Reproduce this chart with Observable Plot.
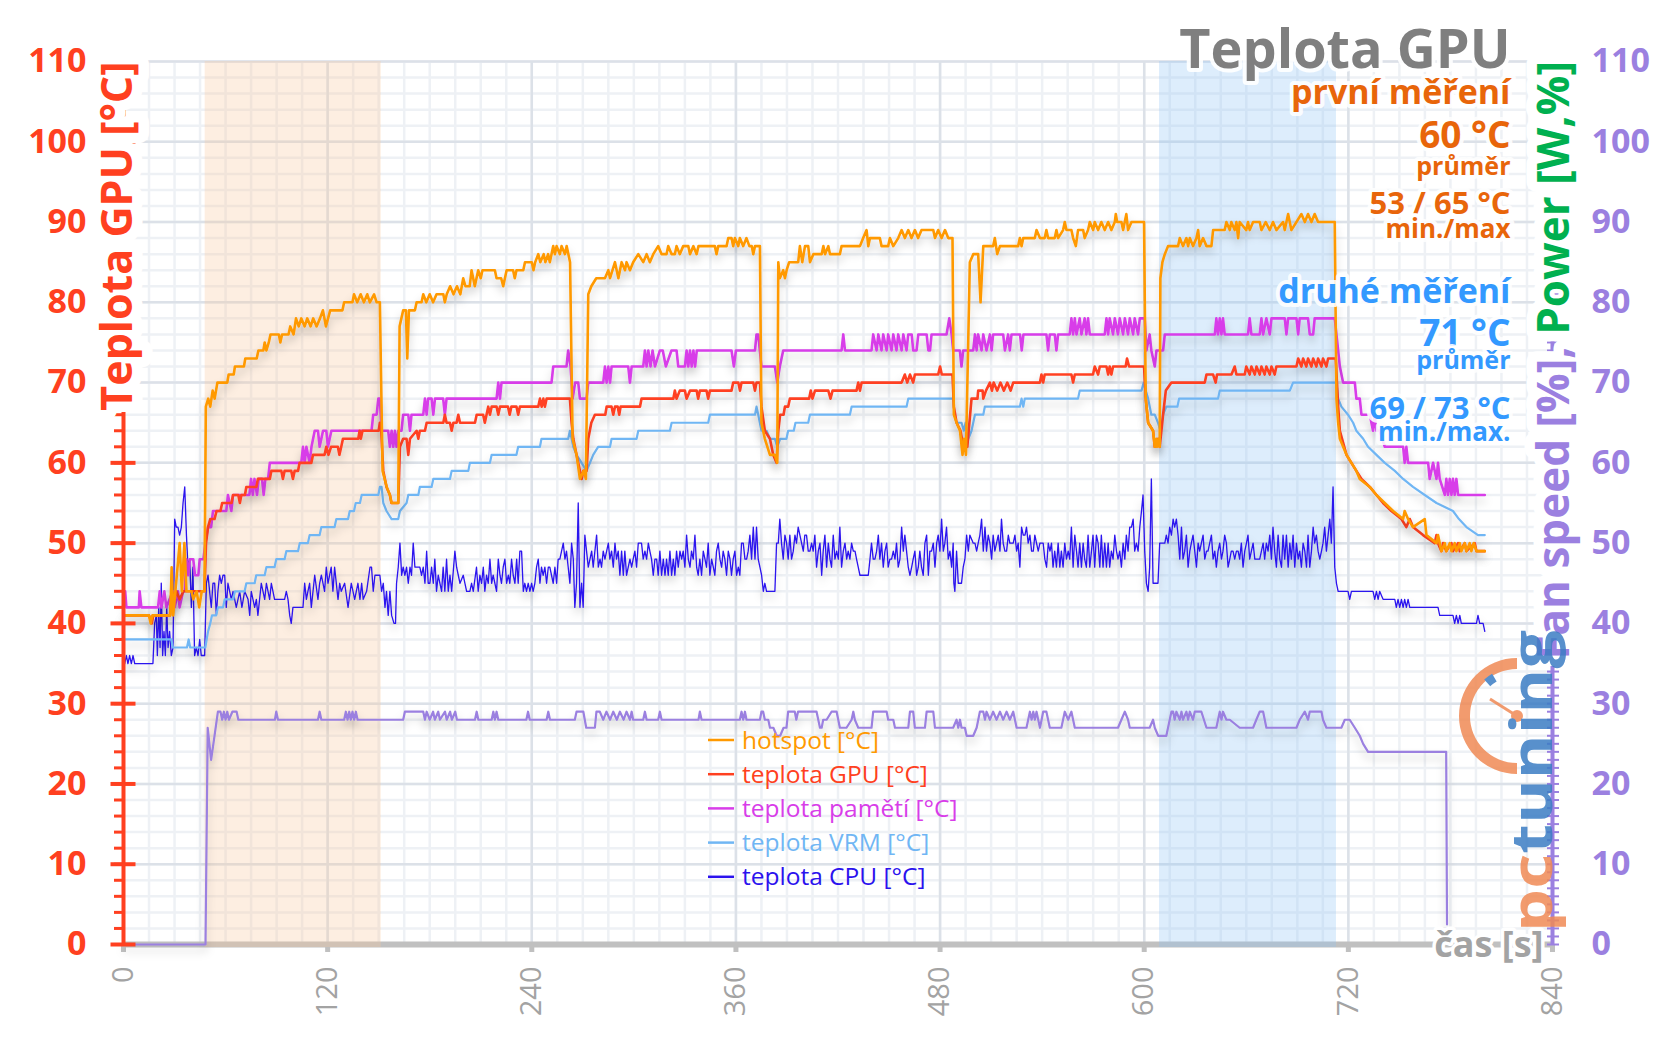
<!DOCTYPE html>
<html><head><meta charset="utf-8">
<script src="https://cdn.jsdelivr.net/npm/d3@7"></script>
<script src="https://cdn.jsdelivr.net/npm/@observablehq/plot@0.6"></script>
<style>
body{margin:0;background:#fff;}
#chart{width:1656px;height:1043px;}
</style></head><body><div id="chart"></div>
<script>
// ---------- DATA (time [s], value) ----------
const timeTicks = [0,120,240,360,480,600,720,840];
const tempTicks = [0,10,20,30,40,50,60,70,80,90,100,110];
const bands = [{from:48, to:151.5, kind:"first"}, {from:609, to:713, kind:"second"}];
const seriesNames = ["hotspot [°C]","teplota GPU [°C]","teplota pamětí [°C]","teplota VRM [°C]","teplota CPU [°C]"];
const chartTitle = "Teplota GPU";
const firstRun = ["první měření","60 °C","průměr","53 / 65 °C","min./max"];
const secondRun = ["druhé měření","71 °C","průměr","69 / 73 °C","min./max."];
const leftTitle = "Teplota GPU [°C]";
const rightTitleA = "Fan speed [%], ";
const rightTitleB = "Power [W,%]";
const xTitle = "čas [s]";

const hotspot = [[0,41],[15,41],[16,40],[17,41],[27.5,41],[28.3,47],[29.2,41],[30.5,44],[33,50],[34.3,44],[35.8,50],[37,44],[40,44],[41,43],[43,44],[44.5,42],[46,44],[47.6,44],[48.4,67],[49.8,68],[51,67],[52.4,69],[53.6,68],[55.2,70],[61,70],[61.8,71],[64.8,71],[65.5,72],[70.8,72],[71.6,73],[78.3,73],[79.3,74],[82.2,74],[83,75],[84,74],[85.4,75],[86.4,76],[91.3,76],[92.2,75],[93.2,76],[97,76],[98,77],[100,76],[101.4,78],[103,77],[104.5,78],[106.5,77],[108,78],[110,77],[111.5,78],[113.5,77],[115.5,78],[117.2,79],[119,77],[121.5,79],[128.7,79],[129.7,80],[134.6,80],[135.5,81],[137.4,80],[139.4,81],[141.3,80],[143.3,81],[144.8,80],[147.3,81],[148.8,80],[150.7,80],[152.3,59],[154.7,57],[156.6,56],[157.6,55],[161.5,55],[162.3,77],[164.4,79],[166,79],[166.8,73],[167.8,79],[171.3,79],[172.3,80],[175.2,80],[176.2,81],[178,80],[180,81],[182,80],[184,81],[188,81],[188.9,80],[190,81],[192,82],[194,81],[196,82],[198,81],[199.7,83],[201,82],[203.5,82],[204.6,84],[206.5,82],[207.5,83],[208.5,84],[210,83],[211,84],[218.3,84],[219.3,83],[222,83],[223.2,82],[224.2,83],[225.2,84],[229,84],[230,83],[231,84],[235,84],[236,85],[240,85],[241,84],[242,85],[243.8,86],[245,85],[247,86],[248,85],[249.6,86],[250.6,85],[252.6,87],[253.6,86],[254.6,87],[256.5,86],[257.5,87],[259.5,86],[260.5,87],[262.5,85],[264,63],[266.3,61],[268.3,58],[270.5,59],[271.8,58],[273.2,81],[275,82],[277.9,83],[283,83],[285,84],[286,83],[288.9,85],[290.9,83],[292.8,85],[294.8,84],[295.7,85],[297.7,84],[299.6,85],[302.6,86],[305.5,85],[307.5,86],[309.4,85],[311.4,86],[314.3,87],[316.3,86],[319.2,86],[320.2,87],[322.2,86],[324.1,86],[325.1,87],[327,86],[329,87],[332,87],[333,86],[335,87],[336.9,86],[338,87],[347.6,87],[348.6,86],[349.6,87],[354.5,87],[355.5,88],[357.4,88],[358.4,87],[359.4,88],[361.4,87],[362.3,88],[364.3,87],[366.2,88],[367.9,87],[369.3,87],[370.2,86],[371.2,87],[374.1,87],[375,65],[377,63],[380,61],[382.9,61],[384.3,60],[384.9,85],[385.8,83],[387.8,84],[388.8,83],[389.8,84],[391.3,85],[396.6,85],[397.6,87],[399,85],[400.6,87],[402.5,87],[403.5,85],[405.5,86],[410.4,86],[411.4,87],[412.4,86],[414.3,87],[415.3,86],[421.1,86],[422.1,87],[432.9,87],[434.8,88],[436.8,89],[437.8,87],[438.8,88],[444.6,88],[445.6,87],[449.5,87],[450.5,88],[452.5,87],[455.4,88],[457.4,89],[459.3,88],[461.3,89],[463.2,88],[465.2,89],[467.1,88],[469.1,89],[476,89],[477,88],[478.9,89],[480.9,88],[482.9,89],[484.8,88],[487.3,88],[488.1,66],[489.7,65],[491.7,64],[493.2,61],[494,63],[495.2,61],[497.5,85],[499.5,86],[502.4,86],[503.8,80],[505.4,87],[511.2,87],[512.2,88],[513.6,86],[515.2,87],[525.9,87],[526.9,88],[527.9,87],[528.9,88],[535.7,88],[536.7,89],[538.7,88],[541.5,88],[542.5,89],[543.5,88],[547.4,88],[548.4,89],[549.4,88],[552.3,89],[553.3,90],[554.3,89],[557.2,89],[558.2,88],[559.8,87],[561.1,89],[564.1,89],[565,88],[567,89],[568,90],[570,89],[570.9,90],[572.9,89],[574.8,90],[576.8,89],[578.8,90],[580.7,89],[582.7,90],[583.3,91],[584.1,90],[586.6,90],[587.6,89],[589.5,91],[590.5,89],[592.5,90],[599.9,90],[600.9,68],[602.3,65],[605.2,64],[606.2,62],[607.2,63],[607.6,62],[608.7,63],[609.1,62],[609.5,83],[610.7,85],[612.1,86],[614,87],[619.9,87],[620.9,88],[622.8,87],[624.8,88],[625.8,87],[626.8,88],[628.7,87],[630.7,88],[631.7,89],[632.6,87],[634.6,88],[636.6,87],[639.5,87],[640.5,89],[647.3,89],[648.3,90],[650.3,89],[651.2,90],[653.2,89],[654.2,90],[655.2,88],[656.1,90],[660,89],[661,90],[662,89],[664,90],[667.9,90],[668.9,89],[671.4,90],[673.8,89],[675.7,90],[677.7,89],[681.6,90],[682.6,89],[684.6,91],[686.5,89],[689.5,90],[692.4,91],[694.4,90],[696.3,91],[698.3,90],[700.2,91],[702.2,90],[712,90],[713,68],[714,65],[715,63],[718.9,61],[721.8,60],[724.7,59],[726.7,58],[732.6,57],[736.5,56],[741.4,55],[746.3,54],[752.2,53],[753.1,54],[755.1,53],[758,52],[764.9,53],[765.9,51],[771.8,50],[772.7,51],[773.7,50],[774.7,49],[776.7,50],[777.6,49],[779.6,50],[780.6,49],[782.5,50],[783.5,49],[785.5,50],[786.4,49],[788.4,50],[789.4,49],[791.3,50],[792.3,49],[793.7,50],[795.3,49],[800.2,49]];

const gpuTemp = [[0,41],[15,41],[16.6,40],[17.5,41],[27.3,41],[28.5,44],[30,43],[31,44],[33,43],[35.2,44],[47.6,44],[48.5,50],[49.7,52],[51,53],[53.5,53],[54.7,54],[57,54],[58,55],[63.5,55],[64.4,56],[67.5,56],[68.4,55],[69.3,56],[71.4,56],[72.2,57],[78.1,57],[79,58],[86,58],[86.9,59],[92.8,59],[93.7,58],[94.7,59],[98.6,59],[99.6,58],[100.6,59],[102.6,59],[103.5,60],[110.4,60],[111.4,61],[118.2,61],[119.2,62],[120.5,61],[122,62],[126,62],[126.9,61],[128,62],[129,63],[138,63],[138.8,64],[139.5,63],[140.5,64],[150,64],[150.7,65],[151.5,64],[152.7,59],[154.6,57],[156.6,56],[157.5,55],[161.5,55],[162.5,62],[164.4,63],[166.4,63],[167.4,61],[168.4,63],[172.3,64],[173.3,63],[174.2,64],[177.2,64],[178.2,65],[188,65],[188.9,66],[189.9,65],[191.9,65],[192.9,64],[193.9,65],[195.8,65],[196.8,66],[197.8,65],[206.6,65],[207.6,66],[211.4,66],[212.4,65],[213.4,66],[214.4,67],[215.4,66],[216.4,67],[219.3,67],[220.3,66],[221.3,67],[226,67],[227,66],[228,67],[231,67],[232,66],[233,67],[243.8,67],[244.8,68],[245.8,67],[246.8,68],[247.7,67],[248.7,68],[262.4,68],[263.4,65],[264.4,63],[266.3,61],[269.3,58],[270.3,59],[272.2,59],[273.2,63],[275,65],[277.1,66],[283.2,66],[284,67],[286.9,67],[287.9,66],[288.9,67],[290.5,67],[291.4,66],[292.2,67],[303.6,67],[304.5,68],[323.2,68],[324.1,69],[325.1,68],[327,69],[330,69],[331,68],[333,69],[336.9,69],[337.8,68],[338.8,69],[342.7,69],[343.7,68],[344.7,69],[357.4,69],[358.4,70],[361.4,70],[362.4,69],[363.3,70],[370.2,70],[371.2,69],[372.1,70],[374.1,70],[375,67],[377,64],[380,63],[381.9,61],[383.9,60],[384.9,64],[386,66],[388,66],[388.8,67],[390.7,67],[391.7,68],[403,68],[404,69],[405,68],[406.5,69],[414.3,69],[415.6,68],[416.8,69],[430.9,69],[431.9,70],[432.9,69],[433.9,70],[457.4,70],[459.3,71],[460.7,70],[462.3,71],[464.2,70],[465.2,71],[478.9,71],[480,72],[481,71],[487.3,71],[488.1,67],[489.7,65],[492,64],[493.6,62],[495,63],[496,62],[498.5,68],[502,68],[502.4,69],[505,69],[505.4,68],[507,69],[509.3,70],[510.5,69],[511.5,70],[513.6,69],[515.5,70],[517.5,69],[519.5,70],[521.5,69],[523,70],[538.7,70],[539.6,71],[540.6,70],[541.5,71],[557.2,71],[558.2,70],[559.2,71],[569.9,71],[570.9,72],[572.9,71],[573.9,72],[577.8,72],[578.8,71],[579.7,72],[580.7,71],[581.7,72],[589.1,72],[589.9,73],[591.1,72],[599.9,72],[600.9,68],[602.3,65],[605.2,64],[606.2,62],[608.1,63],[609.1,62],[611.1,66],[612.7,69],[616,70],[635.6,70],[636.6,71],[640.5,71],[642,70],[642.8,71],[651.3,71],[653.2,72],[654.2,71],[659.1,71],[660,72],[662,71],[663,72],[665,71],[666,72],[667.9,71],[668.9,72],[670.8,71],[671.8,72],[673.8,71],[674.8,72],[676.7,71],[677.7,72],[689.5,72],[690.5,73],[692.4,72],[693.4,73],[695.3,72],[696.3,73],[698.3,72],[699.3,73],[701.2,72],[702.2,73],[704.2,72],[705.1,73],[707.1,72],[708.1,73],[712.6,73],[714,67],[715,64],[718.9,61],[721.8,60],[724.7,59],[727.7,58],[732.6,57],[736.5,56],[740.4,55],[745.3,54],[751.2,53],[754.1,52],[756.1,53],[758,52],[763.9,51],[770.8,50],[771.8,51],[772.7,50],[774.7,49],[775.7,50],[777.6,49],[780.6,50],[781.5,49],[784.5,50],[785.5,49],[788.4,50],[789.4,49],[794.3,50],[795.3,49],[800.2,49]];

const memTemp = [[0,44],[1,44],[1.7,42],[9,42],[9.5,44],[10.5,42],[20.3,42],[21.3,44],[22.3,42],[24,44],[25.2,42],[29,44],[30.1,42],[32,44],[33,42],[35,44],[36,44],[37,48],[38,46],[39,48],[41,48],[42,46],[44,46],[44.8,48],[47,48],[48.1,50],[49.7,52],[51.5,52],[52.6,54],[60.4,54],[61.4,56],[63.4,54],[64.4,56],[74,56],[75,58],[76,56],[77,58],[78.5,56],[79.5,58],[81.4,58],[82.4,56],[83.4,58],[85,58],[86,60],[104.5,60],[105.5,62],[106.5,60],[107.5,62],[109.4,60],[110.5,62],[112.4,64],[114.3,64],[115.3,62],[117.3,64],[119.2,64],[120.2,62],[122.2,64],[145.8,64],[146.8,66],[148.8,66],[149.8,68],[150.7,68],[151.7,64],[155.6,64],[156.6,62],[157.6,64],[158.6,62],[159.5,64],[160.5,62],[161.5,64],[163.4,64],[164.4,66],[167.4,66],[168.4,64],[169.3,66],[176.2,66],[177.2,68],[178.2,66],[179.1,68],[181.1,68],[182.1,66],[183.1,68],[187.9,68],[188.9,66],[189.9,68],[219.3,68],[220.3,70],[221.3,68],[222.2,70],[251.6,70],[252.6,72],[260.4,72],[261.4,74],[262.8,72],[264,68],[265.5,70],[267.3,70],[268.3,68],[272.2,68],[273.2,70],[282,70],[283,72],[284,70],[285,72],[286,70],[286.9,72],[296.7,72],[297.7,70],[298.7,72],[305.5,72],[306.5,74],[307.5,72],[308.5,74],[309.8,72],[311,74],[312.4,72],[315.3,74],[317,74],[318.8,72],[322.1,74],[325.1,74],[326.1,72],[330,72],[331,74],[332,72],[333,74],[334,72],[335,74],[336,72],[337,74],[357.4,74],[358.8,72],[360,74],[371.2,74],[372.1,76],[373.1,76],[375,72],[382.9,72],[384.3,70],[385.8,72],[387.8,74],[422.1,74],[423.1,76],[424.1,74],[439.7,74],[440.7,76],[442.7,74],[443.7,76],[445.6,74],[446.6,76],[448.6,74],[449.5,76],[451.5,74],[452.5,76],[454.4,74],[455.4,76],[457.4,74],[458.4,76],[460.3,74],[461.3,76],[463.3,76],[464.2,74],[466.2,74],[467.2,76],[472.1,76],[473.1,74],[474.1,74],[475,76],[483.8,76],[485.4,78],[486.8,76],[487.7,74],[491.6,74],[492.6,72],[493.6,74],[499.5,74],[500.5,76],[501.5,74],[502.4,76],[504.4,74],[505.4,76],[507.3,74],[509.3,76],[510.3,74],[511.2,76],[517.1,76],[518.1,74],[520,76],[521,74],[522,76],[527,76],[528,74],[529,76],[542.5,76],[543.5,74],[544.5,76],[547.4,76],[548.4,74],[549.4,76],[556.2,76],[557.2,78],[558.2,76],[559.2,78],[560.2,76],[562.1,78],[563.1,76],[565,78],[566,76],[567,78],[568,76],[576.8,76],[577.8,78],[578.8,76],[579.7,78],[581.7,76],[582.7,78],[584.6,76],[585.6,78],[587.6,76],[588.6,78],[590.5,76],[591.5,78],[593.5,76],[594.4,78],[596.4,76],[597.4,78],[600.3,78],[601.3,74],[603.2,76],[604.2,74],[606.2,72],[607.2,74],[611.1,74],[612.1,76],[641.5,76],[642.4,78],[643.4,76],[644.4,78],[645.4,76],[646.3,78],[647.3,76],[661,76],[662,78],[663,76],[667.9,76],[668.9,78],[669.9,76],[671.8,78],[673.8,76],[674.8,78],[682.6,78],[683.6,76],[684.6,78],[689.5,78],[690.5,76],[691.4,78],[696.3,78],[697.3,76],[699.3,76],[700.2,78],[712,78],[714,74],[715,72],[716.9,70],[723.8,70],[724.7,68],[726.7,68],[727.7,66],[732.6,66],[734.5,64],[735.5,66],[736.5,64],[738.4,64],[741.4,62],[752.2,62],[753.1,60],[754.1,62],[755.1,60],[766.9,60],[767.8,58],[769.8,60],[771.8,58],[772.7,60],[773.7,58],[776.7,56],[777.6,58],[778.6,56],[779.6,58],[780.6,56],[781.5,58],[782.5,56],[783.5,58],[784.5,56],[800.2,56]];

const vrmTemp = [[0,38],[28.1,38],[29,37],[37.3,37],[38.3,38],[39.2,37],[48.1,37],[49.7,39],[51,40],[52,41],[54.5,41],[55.5,42],[58.5,42],[59.5,43],[64.5,43],[65.5,44],[71.2,44],[72.2,45],[77.1,45],[78,46],[83,46],[84,47],[88.8,47],[89.8,48],[94.7,48],[95.7,49],[102.6,49],[103.6,50],[108.4,50],[109.4,51],[115.3,51],[116.3,52],[124.1,52],[125.1,53],[132,53],[133,54],[135.5,54],[136.5,55],[139,55],[140,56],[149.8,56],[150.7,57],[151.7,57],[152.7,55],[154.6,54],[157.6,53],[161.5,53],[162.5,54],[166.4,55],[167.4,56],[173.3,56],[174.2,57],[181.1,57],[182.1,58],[191.9,58],[192.9,59],[202.7,59],[203.6,60],[215.4,60],[216.4,61],[231,61],[232,62],[244.8,62],[245.7,63],[261.4,63],[262.4,64],[263.4,63],[264.4,62],[266.3,61],[269.3,60],[272.2,59],[274.2,60],[276.1,61],[279,62],[286,62],[286.9,63],[301.6,63],[302.6,64],[321.2,64],[322.2,65],[343.7,65],[344.7,66],[371.2,66],[372.1,67],[373.1,66],[375,64],[378,64],[380,63],[382.9,63],[384.3,62],[386,63],[389.7,63],[390.7,64],[394,64],[395,65],[402.5,65],[403.5,66],[427,66],[428,67],[460.3,67],[461.3,68],[487.7,68],[488.5,66],[489.7,65],[492.6,65],[494,64],[495,65],[496.6,63],[498.5,64],[500.5,66],[505.4,66],[506.3,67],[526.9,67],[527.9,68],[528.9,67],[529.8,68],[561.1,68],[562.1,69],[598.4,69],[599.7,70],[600.9,69],[602.3,68],[604.2,66],[606.2,66],[608.1,65],[609.5,64],[611.1,66],[613,67],[619.5,67],[620.5,68],[643.4,68],[644.4,69],[685.6,69],[687.5,70],[713,70],[714,68],[715.9,67],[719.8,66],[722.8,65],[724.7,64],[728.7,63],[731.6,62],[736.5,61],[741.4,60],[747.3,59],[752.2,58],[758,57],[764.9,56],[771.8,55],[781.5,54],[785,53],[789.4,52],[796.2,51],[800.2,51]];

const cpuTemp = [[0.7,35],[1.7,36],[2.6,35],[3.6,36],[4.6,35],[5.6,36],[6.6,35],[17.3,35],[18.3,40],[19.3,41],[19.9,36],[20.7,42],[21.5,37],[22.2,45],[23,36],[23.8,39],[24.6,36],[25.4,42],[26.2,37],[27.1,39],[28.1,36],[29.1,37],[30.1,53],[31,52],[32,52],[33,51],[34,52],[35,55],[36,57],[37,51],[37.9,47],[38.9,48],[39.9,42],[40.8,47],[41.8,36],[42.8,37],[43.8,36],[44.8,38],[45.7,36],[47.7,36],[48.7,45],[49.7,46],[50.6,44],[51.6,42],[52.6,45],[53.6,45],[54.6,41],[55.5,44],[56.5,46],[57.5,45],[58.5,46],[59.5,46],[60.4,42],[61.4,45],[63.4,43],[64.4,44],[66.3,42],[68.3,44],[69.6,42],[71.2,44],[73.2,43],[74.2,41],[75.1,44],[77.1,42],[78.1,43],[79,41],[81,45],[83,43],[84,45],[85.9,43],[86.9,45],[88.8,43],[90.8,43],[94.7,43],[95.7,44],[96.7,43],[97.7,41],[98.6,40],[99.6,42],[105.5,42],[106.5,45],[107.5,43],[108.4,44],[109.4,45],[110.4,42],[112.4,46],[114.3,43],[115.3,45],[116.3,46],[118.2,44],[119.2,47],[120.2,45],[122.1,47],[123.1,44],[124.1,47],[126.1,43],[127.1,45],[128,44],[130,45],[132,42],[133.9,45],[135.9,43],[137.8,45],[139,43],[140,45],[140.9,43],[142.9,44],[144.9,47],[145.8,47],[146.8,44],[147.8,46],[150.7,46],[151.7,44],[152.7,45],[153.7,42],[154.6,44],[155.6,41],[156.6,44],[157.6,41],[159,40],[159.9,40],[160.5,45],[161.5,47],[162.5,50],[163.5,46],[164.4,47],[165.4,46],[166.4,47],[167.4,45],[168.4,47],[169.3,46],[170.3,50],[171.3,47],[174.2,47],[175.2,46],[176.2,47],[177.2,45],[178.2,49],[179.1,45],[180.1,45],[181.1,47],[182.1,45],[183,48],[184,44],[185,46],[186,45],[187,44],[187.9,47],[188.9,44],[189.9,48],[190.9,44],[191.9,46],[192.9,44],[194.8,49],[195.8,47],[196.8,46],[197.8,45],[199.7,46],[200.7,45],[201.7,44],[203.6,44],[204.6,45],[205.6,44],[207.5,47],[208.5,44],[209.5,46],[210.5,45],[211.5,47],[212.4,44],[213.4,46],[214.4,45],[215.4,48],[216.4,45],[217.3,46],[219.3,44],[220.3,48],[221.3,46],[222.2,45],[223.2,47],[224.2,48],[225.2,45],[226.2,46],[227.1,45],[228.1,48],[229.1,46],[230.1,45],[231.1,48],[232,45],[233,49],[234,49],[235,44],[235.9,45],[236.9,44],[237.9,45],[238.9,44],[239.9,45],[240.8,44],[241.8,45],[242.8,47],[243.8,48],[244.8,45],[245.7,47],[246.7,46],[247.7,47],[248.7,45],[249.7,47],[250.6,47],[251.6,46],[252.6,45],[253.6,47],[254.6,45],[255.5,48],[256.5,48],[257.5,49],[258.5,50],[259.5,48],[260.4,49],[261.4,47],[262.4,45],[263.4,50],[264.4,48],[265.3,42],[266.3,45],[267.3,55],[268.3,42],[269.3,45],[270.2,42],[271.2,51],[272.2,49],[273.2,47],[274.2,48],[275.2,49],[276.1,47],[277.1,49],[278.1,51],[279.1,47],[280.1,48],[281,47],[282,49],[283,48],[284,49],[285,50],[285.9,48],[286.9,49],[287.9,47],[288.9,50],[289.8,48],[290.8,49],[291.8,46],[292.8,49],[293.8,46],[294.7,49],[295.7,46],[297.7,48],[298.7,47],[299.6,48],[300.6,49],[301.6,47],[302.6,50],[304.5,50],[305.5,48],[306.5,49],[307.5,48],[308.5,50],[309.4,49],[310.4,48],[311.4,46],[312.4,48],[313.4,48],[314.3,46],[315.3,49],[316.3,46],[317.3,48],[318.3,46],[319.2,48],[320.2,46],[321.2,49],[322.2,46],[323.2,48],[324.1,46],[325.1,49],[326.1,47],[327.1,49],[328.1,48],[329,49],[330,47],[331,51],[332,48],[333,47],[333.9,49],[334.9,48],[335.9,51],[336.9,47],[337.8,46],[338.8,48],[339.8,46],[340.8,49],[341.8,48],[342.7,47],[343.7,50],[344.7,46],[345.7,48],[346.7,47],[347.6,46],[348.6,49],[349.6,50],[350.6,48],[351.6,47],[352.5,49],[353.5,48],[354.5,46],[355.5,49],[356.5,48],[357.4,46],[358.4,48],[359.4,49],[360.4,46],[361.4,47],[362.3,46],[363.3,50],[364.3,50],[365.3,48],[366.3,48],[367.2,49],[368.2,51],[369.2,48],[370.2,52],[371.2,48],[372.1,52],[373.1,48],[374.1,47],[375.1,46],[376.1,44],[377,45],[378,44],[382.9,44],[383.9,50],[384.9,50],[385.8,53],[386.8,50],[387.8,48],[388.8,51],[389.8,50],[390.7,48],[391.7,51],[392.7,48],[393.7,49],[394.7,51],[395.6,50],[396.6,52],[397.6,51],[398.6,50],[399.6,49],[400.5,51],[401.5,51],[402.5,49],[403.5,49],[404.5,50],[405.4,49],[406.4,51],[407.4,47],[408.4,49],[409.4,50],[410.4,46],[411.3,49],[412.3,51],[413.3,47],[414.3,50],[415.3,48],[416.2,47],[417.2,51],[418.2,48],[419.2,49],[420.2,48],[421.1,52],[422.1,47],[423.1,49],[424.1,50],[425.1,48],[426,49],[427,48],[428,50],[429,49],[430,49],[430.9,48],[432.9,46],[437.8,46],[438.8,48],[439.7,50],[440.7,48],[441.7,48],[442.7,49],[443.7,51],[444.6,48],[445.6,50],[446.6,47],[447.6,49],[448.6,50],[449.5,47],[450.5,48],[451.5,48],[452.5,49],[453.5,48],[454.4,50],[455.4,47],[456.4,48],[457.4,52],[458.4,49],[459.3,51],[460.3,49],[461.3,47],[462.3,46],[463.3,47],[464.2,48],[465.2,49],[466.2,46],[467.2,47],[468.1,49],[469.1,47],[470.1,46],[471.1,50],[472.1,51],[473.1,46],[474,49],[475,49],[476,50],[477,47],[478,50],[478.9,51],[479.9,49],[480.9,53],[481.9,49],[482.8,50],[483.8,52],[484.8,48],[485.8,49],[486.8,47],[487.7,50],[488.1,45],[488.7,44],[489.7,49],[490.7,45],[492.6,45],[493.6,47],[494.6,48],[495.6,51],[496.6,49],[497.5,51],[499.5,50],[500.5,50],[501.5,49],[502.4,50],[503.4,51],[504.4,53],[505.4,49],[506.4,52],[507.3,49],[508.3,51],[509.3,50],[510.3,48],[511.2,51],[512.2,49],[514.2,51],[515.2,49],[516.1,53],[517.1,50],[518.1,49],[519.1,49],[520.1,51],[521,50],[522,50],[523,50],[524,51],[525,49],[525.9,50],[526.9,47],[527.9,52],[528.9,51],[529.9,51],[530.8,52],[531.8,50],[532.8,51],[533.8,49],[534.8,49],[535.7,51],[536.7,50],[537.7,49],[538.7,50],[540.6,50],[541.6,48],[542.6,47],[543.6,50],[544.6,49],[545.5,50],[546.4,47],[547.4,49],[548.4,47],[549.4,50],[550.4,47],[551.3,49],[552.3,47],[553.3,50],[554.3,48],[555.3,49],[556.2,48],[557.2,52],[558.2,47],[559.2,51],[560.2,49],[561.1,47],[562.1,50],[563.1,47],[564.1,50],[565,48],[566,47],[567,51],[568,47],[569,49],[569.9,51],[570.9,47],[571.9,51],[572.9,50],[573.9,47],[574.8,51],[575.8,47],[576.8,50],[577.8,47],[578.8,50],[579.7,47],[580.7,49],[581.7,48],[582.7,51],[583.7,49],[584.6,48],[585.6,49],[586.6,47],[587.6,50],[588.6,48],[589.5,51],[590.5,49],[591.5,52],[592.5,52],[593.5,53],[594.4,49],[595.4,50],[596.4,49],[597.4,52],[598.4,54],[599.3,56],[600.3,49],[601.3,45],[602.3,44],[603.2,47],[604.2,58],[605.2,45],[608.1,45],[609.1,50],[611.1,50],[612.1,50],[613,51],[614,50],[615,52],[616,51],[617,53],[617.9,52],[618.9,53],[619.9,51],[620.9,48],[621.9,52],[622.8,48],[623.8,49],[624.8,51],[625.8,47],[626.8,49],[627.7,50],[628.7,51],[629.7,49],[630.7,47],[631.7,50],[632.6,49],[633.6,50],[634.6,51],[635.6,48],[636.6,49],[637.5,49],[638.5,50],[639.5,51],[640.5,48],[641.5,49],[642.4,47],[643.4,49],[644.4,50],[645.4,48],[646.3,49],[647.3,51],[648.3,50],[649.3,47],[650.3,48],[651.2,49],[652.2,49],[653.2,48],[654.2,49],[655.2,49],[656.1,48],[657.1,50],[658.1,47],[659.1,49],[660.1,50],[661,51],[662,48],[663,49],[664,50],[665,48],[667.9,48],[668.9,49],[669.9,50],[670.8,48],[671.8,50],[672.8,49],[673.8,51],[674.8,48],[675.7,52],[676.7,49],[677.7,47],[678.7,51],[679.7,48],[680.7,47],[681.6,51],[682.6,48],[683.6,51],[684.6,47],[685.6,50],[686.5,48],[687.5,51],[688.5,47],[689.5,50],[690.5,48],[691.4,49],[692.4,47],[693.4,50],[694.4,49],[695.4,47],[696.3,51],[697.3,47],[698.3,49],[699.3,52],[700.2,50],[701.2,51],[702.2,49],[703.2,48],[704.2,49],[705.1,50],[706.1,52],[707.1,49],[708.1,51],[709.1,53],[710,50],[711,57],[712,47],[713,45],[714,44],[719.8,44],[720.8,43],[721.8,44],[734.5,44],[735.5,43],[736.5,44],[737.5,43],[738.4,44],[740.4,43],[747.3,43],[748.2,42],[749.2,43],[750.2,42],[751.2,43],[752.2,42],[753.1,43],[754.1,42],[755.1,43],[756.1,42],[772.7,42],[773.7,41],[781.5,41],[782.5,40],[783.5,41],[784.5,40],[785.5,41],[786.4,40],[795.3,40],[796.2,41],[797.2,40],[799.2,40],[800.2,39]];

const fanSpeed = [[0,0],[48.2,0],[49.5,27],[51.5,23],[53.5,26],[55.5,29],[57,29],[58,28],[59,29],[60,28],[61,29],[62,28],[64,29],[66.5,29],[67.5,28],[89,28],[89.8,29],[90.8,28],[114.3,28],[115.3,29],[116.3,28],[129.7,28],[130.7,29],[131.7,28],[132.7,29],[133.6,28],[134.6,29],[135.6,28],[136.6,29],[137.6,28],[164.4,28],[165.4,29],[176.2,29],[177.2,28],[178.2,29],[180,28],[182,29],[183,28],[185,29],[186,28],[189,29],[190,28],[192,29],[193,28],[195,29],[196,28],[206.6,28],[207.6,29],[208.6,28],[216.4,28],[217.4,29],[218.3,28],[219.3,29],[220.3,28],[236.8,28],[237.8,29],[238.8,28],[248.7,28],[249.7,29],[250.7,28],[265.3,28],[266.3,29],[270.3,29],[272,27],[277.1,27],[278,29],[280,29],[282,28],[283.9,29],[286,28],[287.9,29],[290,28],[291.8,29],[294,28],[295.7,29],[297.7,28],[298.7,29],[299.6,28],[305.5,28],[306.5,29],[307.5,28],[314.3,28],[315.3,29],[316.3,28],[338,28],[338.8,29],[339.8,28],[362.3,28],[363.3,29],[364.3,28],[365.3,29],[366.2,28],[374.1,28],[375,29],[376,29],[377,28],[379,28],[380,27],[382,27],[384,26],[386,26],[388,27],[389.7,27],[390.7,29],[394.6,29],[395.5,28],[396.5,29],[407.4,29],[409.4,27],[410.4,27],[411.3,28],[413.3,28],[416.2,29],[419.2,29],[421.1,27],[425,27],[428,28],[429,29],[429.9,28],[431.9,27],[439.7,27],[440.7,29],[448.6,29],[449.5,28],[452.5,28],[453.5,27],[461.3,27],[462.3,29],[464.2,29],[465.2,27],[471.1,27],[472.1,29],[476,29],[477,27],[487.7,27],[489.7,28],[490.7,27],[491.7,28],[492.6,27],[494.6,27],[495.6,26],[499.5,26],[501.5,27],[503.4,29],[505.4,29],[506.4,28],[507.3,29],[509.3,28],[511.2,29],[513.2,28],[515.2,29],[517.1,28],[519.1,29],[521,28],[523,29],[525,27],[530.8,27],[531.8,28],[532.8,29],[533.8,28],[534.8,29],[535.7,28],[536.7,29],[538.7,27],[539.7,28],[540.6,29],[542.5,29],[544.5,27],[551.3,27],[553.3,29],[555.3,28],[557.2,29],[559.2,27],[584.6,27],[586.6,28],[588.6,29],[590.5,28],[591.5,27],[603.2,27],[605.2,28],[606.2,27],[608.2,26],[613,26],[616,29],[617,29],[617.9,28],[618.9,29],[620.9,28],[621.9,29],[622.8,28],[624.8,29],[625.8,28],[626.8,29],[628.7,28],[629.7,29],[633.6,29],[636.6,27],[642.4,27],[644.4,29],[645.4,28],[646.3,29],[648.3,28],[650.3,28],[656.1,27],[664,27],[665.9,28],[667.9,29],[669.9,29],[671.8,27],[689.5,27],[691.4,28],[694.4,29],[696.3,28],[697.3,29],[704.2,29],[705.1,28],[707.1,27],[715.9,27],[717.9,28],[720.8,28],[723.8,27],[726.7,26],[728.7,25],[731.6,24],[777.5,24],[778,2.5]];

// ---------- STYLE ----------
const RED = "#ff4020", PURPLE = "#9b80e0", GREEN = "#00b050", AXGRAY = "#a3a3a3";
const ORANGE_T = "#e8650a", BLUE_T = "#3399ff", TITLE_GRAY = "#7f7f7f";
const seriesColors = ["#ff9900", "#ff4020", "#d83de9", "#70b6f4", "#2b12ee"];
const FAN_COLOR = "#9b80e0";

const lineOf = (data, stroke, strokeWidth) =>
  Plot.line(data, {x: d => d[0], y: d => d[1], stroke, strokeWidth, strokeLinejoin: "round", strokeLinecap: "round"});

const statStyle = [
  {size: 54, color: TITLE_GRAY, base: 67},
  {size: 34, color: ORANGE_T, base: 103},
  {size: 37, color: ORANGE_T, base: 147},
  {size: 25, color: ORANGE_T, base: 174},
  {size: 31, color: ORANGE_T, base: 213},
  {size: 26, color: ORANGE_T, base: 237},
  {size: 34, color: BLUE_T, base: 302},
  {size: 37, color: BLUE_T, base: 345},
  {size: 25, color: BLUE_T, base: 368},
  {size: 31, color: BLUE_T, base: 418},
  {size: 26, color: BLUE_T, base: 440}
];
const statTexts = [chartTitle, ...firstRun, ...secondRun];
const MT = 61;
const statMarks = statTexts.map((t, i) => Plot.text([t], {
  text: d => d, frameAnchor: "top-right", dx: -42, dy: statStyle[i].base - MT,
  textAnchor: "end", lineAnchor: "bottom", fontSize: statStyle[i].size, fontWeight: "bold",
  fill: statStyle[i].color, stroke: "white", strokeWidth: 8, strokeOpacity: 0.9
}));

const plot = Plot.plot({
  width: 1656, height: 1043,
  marginLeft: 123, marginRight: 104, marginTop: MT, marginBottom: 99,
  x: {domain: [0, 840]},
  y: {domain: [0, 110]},
  style: {fontFamily: "'Open Sans', sans-serif", background: "white", overflow: "visible"},
  marks: [
    Plot.gridX(d3.range(0, 841, 15), {stroke: "#eef1f5", strokeOpacity: 1, strokeWidth: 2.5}),
    Plot.gridY(d3.range(0, 111, 2), {stroke: "#eef1f5", strokeOpacity: 1, strokeWidth: 2.5}),
    Plot.gridX(timeTicks, {stroke: "#dce1e8", strokeOpacity: 1, strokeWidth: 2.5}),
    Plot.gridY(tempTicks, {stroke: "#dce1e8", strokeOpacity: 1, strokeWidth: 2.5}),
    Plot.axisX({ticks: timeTicks, tickSize: 8, tickPadding: 14, tickRotate: -90, stroke: "#c0c0c0", strokeWidth: 5, fill: AXGRAY, fontSize: 29, label: null}),
    Plot.ruleY([0], {stroke: "#c0c0c0", strokeWidth: 6}),
    Plot.rect(bands, {x1: "from", x2: "to", fill: d => d.kind === "first" ? "#f7c89a" : "#8ec4f5", fillOpacity: 0.3, insetBottom: -3}),
    lineOf(fanSpeed, FAN_COLOR, 2.2),
    lineOf(cpuTemp, seriesColors[4], 1.3),
    lineOf(vrmTemp, seriesColors[3], 2.2),
    lineOf(memTemp, seriesColors[2], 2.6),
    lineOf(gpuTemp, seriesColors[1], 2.6),
    lineOf(hotspot, seriesColors[0], 2.6),
    // left axis
    Plot.ruleX([0], {stroke: RED, strokeWidth: 4}),
    Plot.axisY({anchor: "left", ticks: d3.range(0, 111, 2), tickSize: 9, tickFormat: () => "", stroke: RED, strokeWidth: 3, label: null}),
    Plot.axisY({anchor: "left", ticks: tempTicks, tickSize: 25, dx: 12.5, tickFormat: () => "", stroke: RED, strokeWidth: 4, label: null}),
    Plot.axisY({anchor: "left", ticks: tempTicks, tickSize: 0, tickPadding: 37, fill: RED, fontSize: 34, fontWeight: "bold", label: null}),
    // right axis
    Plot.ruleX([840], {stroke: PURPLE, strokeWidth: 4}),
    Plot.axisY({anchor: "right", ticks: d3.range(0, 111, 1), tickSize: 12, dx: -6, tickFormat: () => "", stroke: PURPLE, strokeWidth: 2, label: null}),
    Plot.axisY({anchor: "right", ticks: tempTicks, tickSize: 0, tickPadding: 39, fill: PURPLE, fontSize: 34, fontWeight: "bold", label: null}),
    // axis titles
    Plot.text([leftTitle], {text: d => d, frameAnchor: "top-left", dx: -5, rotate: -90, textAnchor: "end", lineAnchor: "middle",
      fontSize: 43, fontWeight: "bold", fill: RED, stroke: "white", strokeWidth: 21}),
    Plot.text([xTitle], {text: d => d, frameAnchor: "bottom-right", dx: -9, dy: 12, textAnchor: "end", lineAnchor: "bottom",
      fontSize: 36, fontWeight: "bold", fill: AXGRAY, stroke: "white", strokeWidth: 7}),
    ...statMarks
  ]
});
document.getElementById("chart").appendChild(plot);

// ---------- post-render decorations ----------
const svg = d3.select(plot);
const sx = plot.scale("x"), sy = plot.scale("y");
svg.selectAll('g[aria-label="y-axis tick label"]').attr("font-weight", "bold");

const defs = svg.insert("defs", ":first-child");
defs.append("filter").attr("id", "lsh").attr("filterUnits", "userSpaceOnUse")
  .attr("x", 0).attr("y", 0).attr("width", 1656).attr("height", 1043)
  .append("feDropShadow").attr("dx", 0).attr("dy", 6).attr("stdDeviation", 4)
  .attr("flood-color", "#000").attr("flood-opacity", 0.2);
svg.selectAll('g[aria-label="line"]').attr("filter", "url(#lsh)");

// right axis title (two colours)
const rx = sx.apply(840), ty = sy.apply(110);
const rt = svg.append("text")
  .attr("transform", `translate(${rx + 2},${ty}) rotate(-90)`)
  .attr("text-anchor", "end").attr("dy", "0.35em")
  .attr("font-size", 44).attr("font-weight", "bold")
  .attr("stroke", "white").attr("stroke-width", 21).attr("stroke-linejoin", "round").attr("paint-order", "stroke");
rt.append("tspan").attr("fill", PURPLE).text(rightTitleA);
rt.append("tspan").attr("fill", GREEN).text(rightTitleB);

// watermark logo (over the axis title, under "čas [s]")
const logo = svg.append("g").attr("opacity", 0.85);
const cx = 1517, cy = 716;
logo.append("path").attr("transform", `translate(${cx},${cy})`)
  .attr("d", d3.arc()({innerRadius: 47, outerRadius: 58, startAngle: Math.PI, endAngle: 2 * Math.PI}))
  .attr("fill", "#f08a55");
logo.append("path").attr("transform", `translate(${cx},${cy})`)
  .attr("d", d3.arc()({innerRadius: 40, outerRadius: 49, startAngle: 5.55, endAngle: 5.75}))
  .attr("fill", "#3b7dc4");
logo.append("line").attr("x1", cx).attr("y1", cy).attr("x2", cx - 27).attr("y2", cy - 17)
  .attr("stroke", "#f08a55").attr("stroke-width", 3);
logo.append("circle").attr("cx", cx).attr("cy", cy).attr("r", 6).attr("fill", "#f08a55");
const lt = logo.append("text").attr("transform", "translate(1552,932) rotate(-90)")
  .attr("text-anchor", "start")
  .attr("font-size", 58).attr("font-weight", 700)
  .attr("textLength", 302).attr("lengthAdjust", "spacingAndGlyphs");
lt.append("tspan").attr("fill", "#f08a55").text("pc");
lt.append("tspan").attr("fill", "#3b7dc4").text("tuning");

// bring "čas [s]" label above the logo
svg.selectAll('g[aria-label="text"]').filter(function() { return d3.select(this).text() === xTitle; }).raise();

// legend
const lg = svg.append("g").attr("font-size", 24.5).attr("text-anchor", "start");
seriesNames.forEach((name, i) => {
  const y = 740 + i * 34.2;
  lg.append("line").attr("x1", 708).attr("x2", 734).attr("y1", y).attr("y2", y)
    .attr("stroke", seriesColors[i]).attr("stroke-width", 2.5);
  lg.append("text").attr("x", 742).attr("y", y).attr("dy", "0.35em").attr("fill", seriesColors[i]).text(name);
});
</script></body></html>
